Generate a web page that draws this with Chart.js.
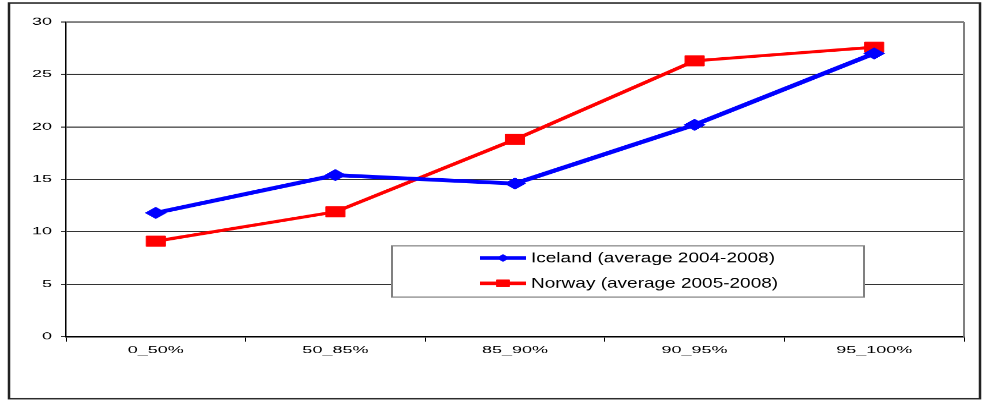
<!DOCTYPE html>
<html>
<head>
<meta charset="utf-8">
<script src="https://cdn.jsdelivr.net/npm/chart.js@4.4.0/dist/chart.umd.min.js"></script>
<style>
  html, body { margin: 0; padding: 0; background: #fff; overflow: hidden; }
  /* the reference is squashed vertically, so draw tall and squash the same way */
  #wrap { width: 986px; height: 729px; transform: scaleY(0.55007); transform-origin: 0 0; }
</style>
</head>
<body>
<div id="wrap"><canvas id="chart" width="986" height="729"></canvas></div>
<script>
const categories = ['0_50%', '50_85%', '85_90%', '90_95%', '95_100%'];
const iceland = [11.8, 15.4, 14.6, 20.2, 27.0];
const norway = [9.1, 11.9, 18.8, 26.3, 27.6];
const yTicks = [0, 5, 10, 15, 20, 25, 30];
const seriesLabels = ['Iceland (average 2004-2008)', 'Norway (average 2005-2008)'];

const FONT = '"Liberation Sans", Arial, sans-serif';

const frame = {
  id: 'frame',
  beforeDatasetsDraw(chart) {
    const { ctx, chartArea: a } = chart;
    ctx.save();
    ctx.strokeStyle = '#808080';
    ctx.lineWidth = 2;
    ctx.beginPath();
    ctx.moveTo(a.right, a.top);
    ctx.lineTo(a.right, a.bottom);
    ctx.stroke();
    ctx.restore();
  },
  afterDraw(chart) {
    const ctx = chart.ctx;
    ctx.save();
    ctx.strokeStyle = '#222';
    ctx.lineWidth = 2.5;
    ctx.strokeRect(9, 5.5, 971, 719.5);
    ctx.restore();
  }
};

// legend sits in a white box inside the plot, line sample with marker
const boxLegend = {
  id: 'boxLegend',
  afterDatasetsDraw(chart) {
    const ctx = chart.ctx;
    const x0 = 392, y0 = 447, w = 472, h = 93;
    ctx.save();
    ctx.fillStyle = '#fff';
    ctx.fillRect(x0, y0, w, h);
    ctx.strokeStyle = '#808080';
    ctx.lineWidth = 2;
    ctx.strokeRect(x0, y0, w, h);
    chart.data.datasets.forEach((ds, i) => {
      const y = 469 + i * 46;
      ctx.strokeStyle = ds.borderColor;
      ctx.lineWidth = 6.5;
      ctx.beginPath();
      ctx.moveTo(480, y);
      ctx.lineTo(526, y);
      ctx.stroke();
      ctx.fillStyle = ds.backgroundColor;
      ctx.lineWidth = 1;
      Chart.helpers.drawPoint(ctx, {
        pointStyle: ds.pointStyle,
        radius: ds.legendRadius,
        borderWidth: 1
      }, 503, y);
      ctx.save();
      ctx.fillStyle = '#000';
      ctx.font = '19px ' + FONT;
      ctx.textBaseline = 'middle';
      ctx.translate(531, y + 1);
      ctx.scale(1, 1.35);
      ctx.fillText(ds.label, 0, 0);
      ctx.restore();
    });
    ctx.restore();
  }
};

new Chart(document.getElementById('chart'), {
  type: 'line',
  data: {
    labels: categories,
    datasets: [{
      label: seriesLabels[0],
      data: iceland,
      borderColor: '#0000ff',
      backgroundColor: '#0000ff',
      borderWidth: 7,
      pointStyle: 'rectRot',
      pointRadius: 10.5,
      pointBorderWidth: 1,
      legendRadius: 6.5
    }, {
      label: seriesLabels[1],
      data: norway,
      borderColor: '#ff0000',
      backgroundColor: '#ff0000',
      borderWidth: 5.5,
      pointStyle: 'rect',
      pointRadius: 13.5,
      pointBorderWidth: 1,
      legendRadius: 9
    }]
  },
  options: {
    responsive: false,
    animation: false,
    devicePixelRatio: 1,
    layout: { padding: { top: 40, right: 22, bottom: 0, left: 0 } },
    elements: { line: { tension: 0 } },
    scales: {
      x: {
        offset: true,
        afterFit: s => { s.height = 117; },
        grid: { offset: true, drawOnChartArea: false, drawTicks: true, tickLength: 9, color: '#000', lineWidth: 1 },
        border: { color: '#000', width: 2.5 },
        ticks: { color: '#000', padding: 5, font: { family: FONT, size: 18 }, maxRotation: 0 }
      },
      y: {
        min: 0,
        max: 30,
        afterFit: s => { s.width = 66; },
        afterBuildTicks: s => { s.ticks = yTicks.map(v => ({ value: v })); },
        grid: { color: '#333', lineWidth: 2, tickLength: 5 },
        border: { color: '#000', width: 1.5 },
        ticks: { color: '#000', padding: 9, font: { family: FONT, size: 18 } }
      }
    },
    plugins: {
      legend: { display: false },
      tooltip: { enabled: false }
    }
  },
  plugins: [frame, boxLegend]
});
</script>
</body>
</html>
